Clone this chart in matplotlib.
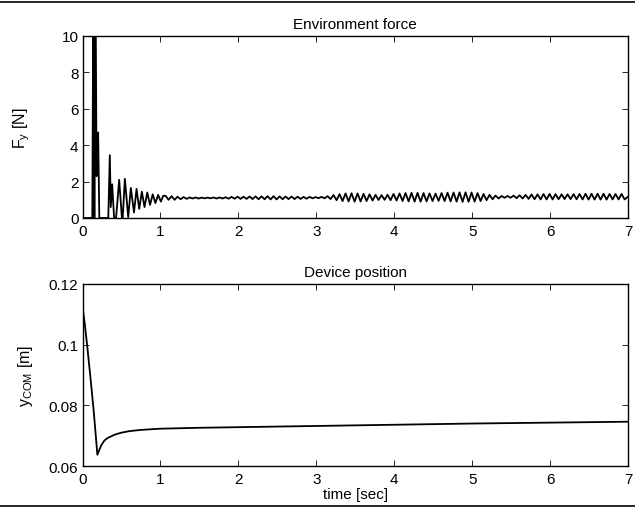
import numpy as np
import matplotlib
matplotlib.use("Agg")
from matplotlib import pyplot as plt, ticker as mticker
from matplotlib.lines import Line2D

plt.rcParams["font.family"] = ["Liberation Sans", "DejaVu Sans"]
plt.rcParams["mathtext.fontset"] = "custom"
plt.rcParams["mathtext.rm"] = "Liberation Sans"
plt.rcParams["mathtext.it"] = "Liberation Sans"

# ---- top panel: environment force, start-up transient (time, value) ----
trans_t = [0.0, 0.125, 0.14, 0.152, 0.165, 0.18, 0.2, 0.215, 0.33, 0.35, 0.362,
           0.38, 0.405, 0.43, 0.47, 0.505, 0.515, 0.543, 0.586, 0.62, 0.66,
           0.693, 0.727, 0.761, 0.795, 0.83, 0.866, 0.9, 0.935, 0.97, 1.005, 1.035]
trans_v = [0.0, 0.0, 14.0, 0.0, 14.0, 2.3, 4.7, 0.0, 0.0, 3.45, 0.6,
           1.85, 0.0, 0.0, 2.1, 0.0, 0.0, 2.15, 0.05, 1.65, 0.3,
           1.6, 0.5, 1.45, 0.6, 1.4, 0.72, 1.3, 0.82, 1.27, 0.9, 1.22]

# ---- top panel: steady oscillation, peak / trough readings ----
peak_t = [1.065, 1.142, 1.219, 1.296, 1.373, 1.450, 1.527, 1.604, 1.681, 1.758,
          1.835, 1.912, 1.989, 2.066, 2.143, 2.220, 2.297, 2.374, 2.451, 2.528,
          2.605, 2.682, 2.759, 2.836, 2.913, 2.990, 3.067, 3.144, 3.221, 3.298,
          3.375, 3.452, 3.529, 3.606, 3.683, 3.760, 3.837, 3.914, 3.991, 4.068,
          4.145, 4.222, 4.299, 4.376, 4.453, 4.530, 4.607, 4.684, 4.761, 4.838,
          4.915, 4.992, 5.069, 5.146, 5.223, 5.300, 5.377, 5.454, 5.531, 5.608,
          5.685, 5.762, 5.839, 5.916, 5.993, 6.070, 6.147, 6.224, 6.301, 6.378,
          6.455, 6.532, 6.609, 6.686, 6.763, 6.840, 6.917]
peak_v = [1.22, 1.20, 1.17, 1.15, 1.13, 1.13, 1.12, 1.12, 1.13, 1.13,
          1.14, 1.16, 1.17, 1.17, 1.18, 1.19, 1.19, 1.20, 1.20, 1.19,
          1.18, 1.18, 1.17, 1.16, 1.16, 1.15, 1.16, 1.20, 1.26, 1.31,
          1.35, 1.36, 1.35, 1.33, 1.30, 1.27, 1.26, 1.28, 1.32, 1.35,
          1.37, 1.38, 1.38, 1.37, 1.35, 1.34, 1.37, 1.39, 1.40, 1.41,
          1.41, 1.40, 1.37, 1.32, 1.27, 1.23, 1.21, 1.21, 1.23, 1.25,
          1.27, 1.29, 1.30, 1.32, 1.32, 1.31, 1.30, 1.30, 1.31, 1.32,
          1.33, 1.33, 1.33, 1.33, 1.32, 1.32, 1.32]
trough_t = [1.104, 1.181, 1.258, 1.335, 1.412, 1.489, 1.566, 1.643, 1.720, 1.797,
            1.874, 1.951, 2.028, 2.105, 2.182, 2.259, 2.336, 2.413, 2.490, 2.567,
            2.644, 2.721, 2.798, 2.875, 2.952, 3.029, 3.106, 3.183, 3.260, 3.337,
            3.414, 3.491, 3.568, 3.645, 3.722, 3.799, 3.876, 3.953, 4.030, 4.107,
            4.184, 4.261, 4.338, 4.415, 4.492, 4.569, 4.646, 4.723, 4.800, 4.877,
            4.954, 5.031, 5.108, 5.185, 5.262, 5.339, 5.416, 5.493, 5.570, 5.647,
            5.724, 5.801, 5.878, 5.955, 6.032, 6.109, 6.186, 6.263, 6.340, 6.417,
            6.494, 6.571, 6.648, 6.725, 6.802, 6.879, 6.956]
trough_v = [1.00, 1.00, 1.03, 1.05, 1.07, 1.07, 1.08, 1.08, 1.07, 1.07,
            1.06, 1.06, 1.05, 1.05, 1.04, 1.03, 1.03, 1.02, 1.02, 1.03,
            1.04, 1.04, 1.05, 1.06, 1.08, 1.09, 1.08, 1.04, 0.98, 0.93,
            0.91, 0.90, 0.91, 0.93, 0.96, 0.99, 1.00, 0.98, 0.96, 0.93,
            0.91, 0.90, 0.90, 0.91, 0.93, 0.94, 0.93, 0.91, 0.90, 0.89,
            0.89, 0.90, 0.93, 0.98, 1.03, 1.07, 1.11, 1.11, 1.09, 1.07,
            1.05, 1.03, 1.02, 1.02, 1.02, 1.03, 1.04, 1.04, 1.03, 1.02,
            1.01, 1.01, 1.01, 1.01, 1.02, 1.02, 1.02]
end_t, end_v = 7.0, 1.17

# ---- bottom panel: device position ----
pos_t = [0.0, 0.03, 0.06, 0.1, 0.14, 0.17, 0.19, 0.21, 0.24, 0.28, 0.32, 0.36,
         0.42, 0.5, 0.6, 0.75, 1.0, 1.5, 2.0, 3.0, 4.0, 5.0, 6.0, 7.0]
pos_v = [0.1125, 0.1065, 0.0995, 0.0895, 0.0790, 0.0700, 0.0637, 0.0650, 0.0668,
         0.0684, 0.0692, 0.0697, 0.0704, 0.0710, 0.0715, 0.0719, 0.0723, 0.0726,
         0.0728, 0.0732, 0.0736, 0.0740, 0.0743, 0.0746]

# interleave peaks and troughs
osc_t = np.ravel(np.column_stack([peak_t, trough_t]))
osc_v = np.ravel(np.column_stack([peak_v, trough_v]))
force_t = np.concatenate([trans_t, osc_t, [end_t]])
force_v = np.concatenate([trans_v, osc_v, [end_v]])

fig = plt.figure(figsize=(6.35, 5.10), dpi=100)
ax1 = fig.add_axes([0.130, 0.5706, 0.859, 0.3569])
ax2 = fig.add_axes([0.130, 0.0843, 0.859, 0.3569])

fs = 11
for ax in (ax1, ax2):
    ax.tick_params(direction="in", top=True, right=True, length=4,
                   width=0.6, labelsize=fs)
    ax.tick_params(axis="x", pad=4)
    ax.tick_params(axis="y", pad=3)
    for s in ax.spines.values():
        s.set_linewidth(1.0)
    ax.set_xlim(0, 7)
    ax.set_xticks(range(8))

ax1.plot(force_t, force_v, color="black", lw=1.3)
ax1.set_ylim(0, 10)
ax1.set_yticks([0, 2, 4, 6, 8, 10])
ax1.set_title("Environment force", fontsize=fs, pad=6)
ax1.set_ylabel(r"F$_\mathregular{y}$ [N]", fontsize=fs + 0.5, labelpad=21)

ax2.plot(pos_t, pos_v, color="black", lw=1.3)
ax2.set_ylim(0.06, 0.12)
ax2.set_yticks([0.06, 0.08, 0.10, 0.12])
ax2.yaxis.set_major_formatter(mticker.FormatStrFormatter("%g"))
ax2.set_title("Device position", fontsize=fs, pad=6)
ax2.set_ylabel(r"y$_\mathregular{COM}$ [m]", fontsize=fs + 0.5, labelpad=10)
ax2.set_xlabel("time [sec]", fontsize=fs, labelpad=1)

fig.add_artist(Line2D([0, 1], [0.995, 0.995], color="black", lw=1.2))
fig.add_artist(Line2D([0, 1], [0.006, 0.006], color="black", lw=1.2))

fig.savefig("out.png", dpi=100)
